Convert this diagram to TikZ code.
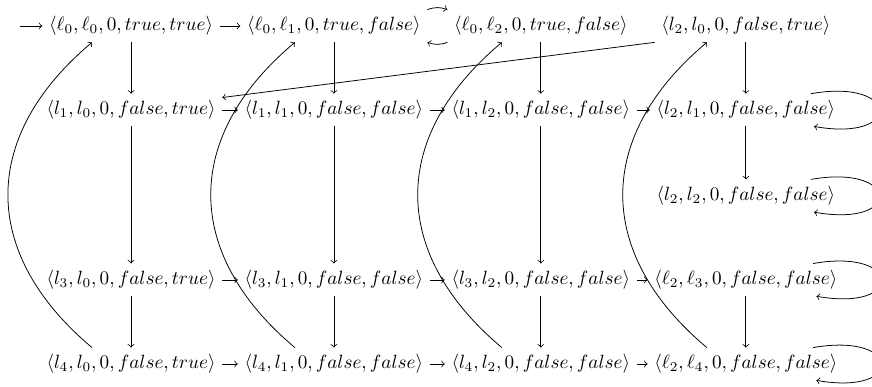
\documentclass[tikz,border=0pt]{standalone}
\usepackage{amsmath,amssymb}
\usetikzlibrary{arrows.meta,positioning,calc}

\begin{document}
\begin{tikzpicture}[
        >=to,
        state/.style={
            inner sep=3.33pt
        },
        arrow/.style={
            ->
        },
        back/.style={
            ->,
            out=140,
            in=220,
            distance=2.68cm
        },
        selfloop/.style={
            ->,
            out=10,
            in=-10,
            distance=1.66cm
        }
        ]
    \useasboundingbox (0,0) rectangle (15.97,7.086);

    % first row
    \coordinate (init) at (0.37,6.61);
    \node[state] (s00) at (2.40,6.61) {$\langle \ell_0,\ell_0,0,true,true\rangle$};
    \node[state] (s01) at (6.115,6.61) {$\langle \ell_0,\ell_1,0,true,false\rangle$};
    \node[state] (s02) at (9.905,6.61) {$\langle \ell_0,\ell_2,0,true,false\rangle$};
    \node[state] (s03) at (13.66,6.61) {$\langle l_2,l_0,0,false,true\rangle$};

    % second row
    \node[state] (s10) at (2.40,5.07) {$\langle l_1,l_0,0,false,true\rangle$};
    \node[state] (s11) at (6.115,5.07) {$\langle l_1,l_1,0,false,false\rangle$};
    \node[state] (s12) at (9.905,5.07) {$\langle l_1,l_2,0,false,false\rangle$};
    \node[state] (s13) at (13.66,5.07) {$\langle l_2,l_1,0,false,false\rangle$};

    \node[state] (s23) at (13.66,3.50) {$\langle l_2,l_2,0,false,false\rangle$};

    % third row
    \node[state] (s30) at (2.40,1.96) {$\langle l_3,l_0,0,false,true\rangle$};
    \node[state] (s31) at (6.115,1.96) {$\langle l_3,l_1,0,false,false\rangle$};
    \node[state] (s32) at (9.905,1.96) {$\langle l_3,l_2,0,false,false\rangle$};
    \node[state] (s33) at (13.66,1.96) {$\langle \ell_2,\ell_3,0,false,false\rangle$};

    % last row
    \node[state] (s40) at (2.40,0.42) {$\langle l_4,l_0,0,false,true\rangle$};
    \node[state] (s41) at (6.115,0.42) {$\langle l_4,l_1,0,false,false\rangle$};
    \node[state] (s42) at (9.905,0.42) {$\langle l_4,l_2,0,false,false\rangle$};
    \node[state] (s43) at (13.66,0.42) {$\langle \ell_2,\ell_4,0,false,false\rangle$};

    \draw[arrow] (init) -- (s00);
    \draw[arrow] (s00) -- (s01);
    \draw[arrow] (s01.north east) to[bend left=20] (s02.north west);
    \draw[arrow] (s02.south west) to[bend left=20] (s01.south east);
    \draw[arrow] (s03.south west) -- ([yshift=-0.07cm]s10.north east);

    \foreach \r in {1,3,4} {
        \draw[arrow] (s\r0) -- (s\r1);
        \draw[arrow] (s\r1) -- (s\r2);
        \draw[arrow] (s\r2) -- (s\r3);
    }

    \foreach \c in {0,1,2} {
        \draw[arrow] (s0\c) -- (s1\c);
        \draw[arrow] (s1\c) -- (s3\c);
        \draw[arrow] (s3\c) -- (s4\c);
    }
    \draw[arrow] (s03) -- (s13);
    \draw[arrow] (s13) -- (s23);
    \draw[arrow] (s33) -- (s43);

    % back edges
    \foreach \c in {0,1,2,3} {
        \draw[back] ([xshift=-0.714cm]s4\c.north) to ([xshift=-0.714cm]s0\c.south);
    }

    % self loops
    \foreach \r in {1,2,3,4} {
        \draw[selfloop] ([xshift=-0.57cm]s\r3.north east) to ([xshift=-0.51cm]s\r3.south east);
    }

\end{tikzpicture}
\end{document}
